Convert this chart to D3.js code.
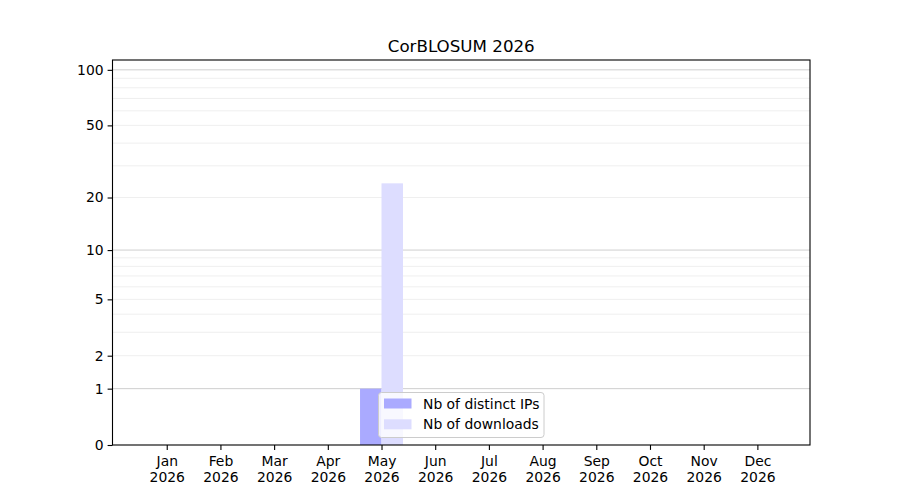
<!DOCTYPE html>
<html>
<head>
<meta charset="utf-8">
<script src="https://cdn.jsdelivr.net/npm/d3@7"></script>
<style>
  body { margin: 0; background: #fff; }
  text { font-family: "DejaVu Sans", sans-serif; fill: #000; }
</style>
</head>
<body>
<div id="chart"></div>
<script>
// monthly stats for CorBLOSUM, 2026
const months = ["Jan", "Feb", "Mar", "Apr", "May", "Jun", "Jul", "Aug", "Sep", "Oct", "Nov", "Dec"];
const year = "2026";
const distinctIPs = [0, 0, 0, 0, 1, 0, 0, 0, 0, 0, 0, 0];
const downloads = [0, 0, 0, 0, 24, 0, 0, 0, 0, 0, 0, 0];
const yTicks = [0, 1, 2, 5, 10, 20, 50, 100];
const majorGrid = [1, 10, 100];
const minorGrid = [2, 3, 4, 5, 6, 7, 8, 9, 20, 30, 40, 50, 60, 70, 80, 90];

const width = 900, height = 500;
const plot = { left: 112.5, right: 810, top: 60, bottom: 445 };

const svg = d3.select("#chart").append("svg")
  .attr("width", width)
  .attr("height", height);

// x: month index, evenly spaced
const x = d3.scaleLinear().domain([-1.01, 11.98]).range([plot.left, plot.right]);
// y: log10(v + 1) scale
const yLog = d3.scaleLog().domain([1, 114]).range([plot.bottom, plot.top]);
const y = v => yLog(v + 1);
const barW = x(0.4) - x(0);

// grid
svg.append("g").selectAll("line")
  .data(minorGrid)
  .join("line")
  .attr("x1", plot.left).attr("x2", plot.right)
  .attr("y1", d => y(d)).attr("y2", d => y(d))
  .attr("stroke", "#ebebeb").attr("stroke-width", 0.8);

svg.append("g").selectAll("line")
  .data(majorGrid)
  .join("line")
  .attr("x1", plot.left).attr("x2", plot.right)
  .attr("y1", d => y(d)).attr("y2", d => y(d))
  .attr("stroke", "#cfcfcf").attr("stroke-width", 1);

// bars
svg.append("g").selectAll("rect")
  .data(distinctIPs)
  .join("rect")
  .attr("x", (d, i) => x(i) - barW)
  .attr("width", barW)
  .attr("y", d => y(d))
  .attr("height", d => y(0) - y(d))
  .attr("fill", "#aaaaff");

svg.append("g").selectAll("rect")
  .data(downloads)
  .join("rect")
  .attr("x", (d, i) => x(i))
  .attr("width", barW)
  .attr("y", d => y(d))
  .attr("height", d => y(0) - y(d))
  .attr("fill", "#ddddff");

// frame
svg.append("rect")
  .attr("x", plot.left).attr("y", plot.top)
  .attr("width", plot.right - plot.left)
  .attr("height", plot.bottom - plot.top)
  .attr("fill", "none")
  .attr("stroke", "#000")
  .attr("stroke-width", 1.1);

// y axis
const yAxis = d3.axisLeft(yLog)
  .tickValues(yTicks.map(v => v + 1))
  .tickFormat(d => String(d - 1))
  .tickSize(4.9)
  .tickPadding(4);

svg.append("g")
  .attr("transform", `translate(${plot.left},0)`)
  .call(yAxis)
  .call(g => g.select(".domain").remove())
  .call(g => g.selectAll("line").attr("stroke", "#000").attr("stroke-width", 1.1))
  .call(g => g.selectAll("text")
    .style("font-family", "DejaVu Sans")
    .style("font-size", "13.9px"));

// x axis
const xAxis = d3.axisBottom(x)
  .tickValues(d3.range(months.length))
  .tickFormat("")
  .tickSize(4.9);

const xg = svg.append("g")
  .attr("transform", `translate(0,${plot.bottom})`)
  .call(xAxis)
  .call(g => g.select(".domain").remove())
  .call(g => g.selectAll("line").attr("stroke", "#000").attr("stroke-width", 1.1));

xg.selectAll(".tick").append("text")
  .attr("text-anchor", "middle")
  .style("font-size", "13.9px")
  .selectAll("tspan")
  .data((d) => [months[d], year])
  .join("tspan")
  .attr("x", 0)
  .attr("y", (d, i) => 21 + i * 16)
  .text(d => d);

// title
svg.append("text")
  .attr("x", (plot.left + plot.right) / 2)
  .attr("y", 52)
  .attr("text-anchor", "middle")
  .style("font-size", "16.7px")
  .text("CorBLOSUM 2026");

// legend
const legendItems = [
  { label: "Nb of distinct IPs", color: "#aaaaff" },
  { label: "Nb of downloads", color: "#ddddff" }
];

const legend = svg.append("g").attr("transform", "translate(378.5,392.5)");
legend.append("rect")
  .attr("width", 165.5)
  .attr("height", 45)
  .attr("rx", 3)
  .attr("fill", "#fff")
  .attr("fill-opacity", 0.8)
  .attr("stroke", "#cccccc")
  .attr("stroke-width", 1);

legendItems.forEach((d, i) => {
  const row = legend.append("g").attr("transform", `translate(0,${6 + i * 20.8})`);
  row.append("rect")
    .attr("x", 5.5).attr("width", 27.5)
    .attr("y", 0).attr("height", 10)
    .attr("fill", d.color);
  row.append("text")
    .attr("x", 44.5)
    .attr("y", 10)
    .style("font-size", "13.9px")
    .text(d.label);
});
</script>
</body>
</html>
